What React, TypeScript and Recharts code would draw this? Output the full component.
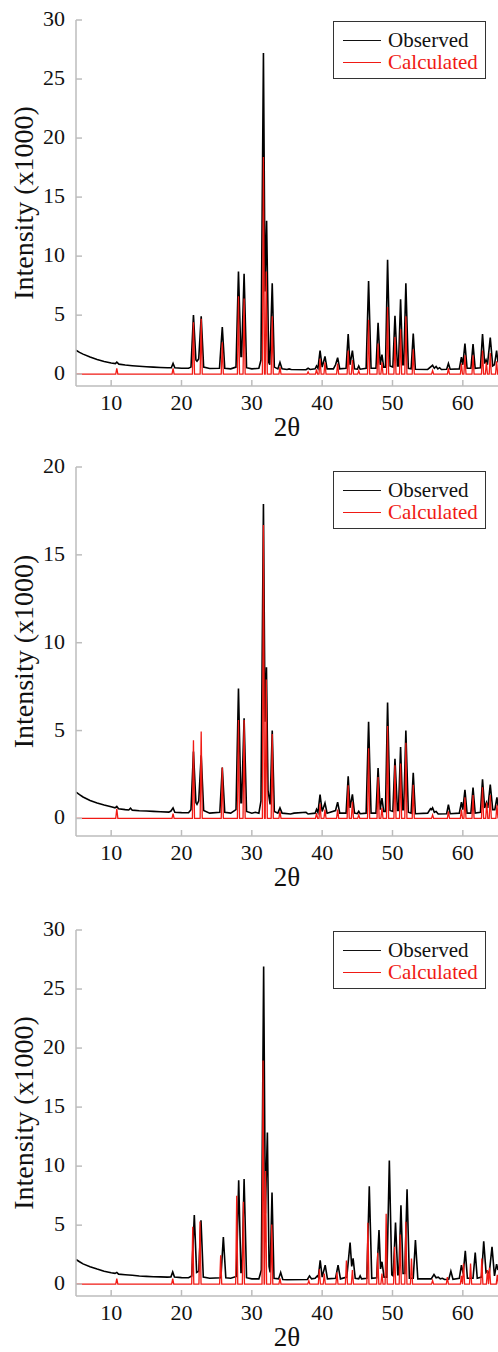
import React from 'react';
import { LineChart, Line, XAxis, YAxis, Legend, Label } from 'recharts';

// ---------- shared ticks ----------
const xTicks = [10, 20, 30, 40, 50, 60];
const yTicks30 = [0, 5, 10, 15, 20, 25, 30];
const yTicks20 = [0, 5, 10, 15, 20];
const seriesNames = ['Observed', 'Calculated'];

// ---------- panel 1 ----------
const observed1: [number, number][] = [
  [5, 2.03], [5.5, 1.85], [6, 1.7], [7, 1.45], [8, 1.25], [9, 1.08], [10, 0.95], [10.6, 0.9], [10.8, 1.02], [11.1, 0.85],
  [12, 0.78], [13, 0.72], [14, 0.67], [15, 0.63], [16, 0.6], [17, 0.57], [18, 0.55], [18.55, 0.55], [18.8, 0.92], [19.05, 0.55],
  [20, 0.5], [21, 0.5], [21.35, 0.6], [21.7, 5.0], [22.05, 1.2], [22.2, 1.1], [22.45, 1.3], [22.8, 4.9], [23.15, 0.6], [24, 0.48],
  [25.4, 0.5], [25.8, 4.0], [26.15, 0.5], [27, 0.45], [27.75, 0.6], [28.1, 8.7], [28.45, 1.5], [28.55, 1.5], [28.9, 8.5], [29.25, 0.55],
  [30, 0.45], [31, 0.5], [31.3, 1.2], [31.65, 27.2], [31.88, 7.0], [32.1, 13.0], [32.4, 1.0], [32.55, 0.8], [32.9, 7.7], [33.2, 0.6],
  [33.7, 0.45], [34.0, 1.0], [34.3, 0.45], [35, 0.4], [35.3, 0.45], [35.6, 0.4], [37.7, 0.38], [38, 0.5], [38.3, 0.4], [39, 0.45],
  [39.2, 0.7], [39.4, 0.5], [39.7, 2.0], [40.0, 0.6], [40.4, 1.5], [40.7, 0.45], [41.6, 0.45], [41.9, 0.8], [42.2, 1.4], [42.5, 0.45],
  [43.4, 0.5], [43.7, 3.4], [43.95, 0.8], [44.3, 2.0], [44.6, 0.45], [45, 0.42], [45.2, 0.7], [45.4, 0.42], [46.25, 0.5], [46.6, 7.9],
  [46.95, 0.5], [47.65, 0.5], [47.95, 4.35], [48.25, 0.8], [48.5, 1.65], [48.75, 0.6], [49.0, 0.6], [49.3, 9.7], [49.65, 0.7], [50.05, 0.6],
  [50.35, 4.95], [50.7, 0.7], [50.85, 0.7], [51.15, 6.35], [51.45, 0.8], [51.6, 0.8], [51.9, 7.7], [52.25, 0.5], [52.65, 0.45], [52.95, 3.45],
  [53.25, 0.42], [55, 0.4], [55.7, 0.75], [55.95, 0.5], [56.2, 0.65], [56.45, 0.45], [56.7, 0.55], [56.95, 0.4], [57.7, 0.42], [57.95, 0.9],
  [58.2, 0.42], [59.5, 0.45], [59.8, 1.45], [60.0, 0.8], [60.3, 2.6], [60.6, 0.5], [61.15, 0.5], [61.45, 2.55], [61.75, 0.5], [62.5, 0.55],
  [62.8, 3.4], [63.1, 0.9], [63.3, 1.2], [63.5, 0.8], [63.9, 3.1], [64.25, 0.7], [64.5, 0.8], [64.8, 2.0], [65, 1.0],
];
// calculated reflections: [2θ, intensity]
const calculated1: [number, number][] = [
  [10.8, 0.5], [18.8, 0.5], [21.7, 4.4], [22.8, 4.7], [25.8, 2.7], [28.1, 6.6], [28.9, 6.4], [31.65, 18.4], [32.05, 8.7], [32.9, 4.9],
  [34.0, 0.6], [38.0, 0.2], [39.2, 0.4], [39.7, 1.3], [40.4, 1.0], [42.2, 0.9], [43.7, 2.0], [44.3, 1.2], [45.2, 0.3], [46.6, 4.6],
  [47.95, 2.6], [48.5, 1.0], [49.3, 5.7], [50.35, 3.15], [51.15, 3.8], [51.9, 4.9], [52.95, 2.1], [55.7, 0.3], [57.95, 0.5], [59.8, 0.9],
  [60.3, 1.6], [61.45, 1.6], [62.8, 2.0], [63.35, 1.0], [63.9, 1.8], [64.8, 1.1],
];

// ---------- panel 2 ----------
const observed2: [number, number][] = [
  [5, 1.5], [5.5, 1.35], [6, 1.22], [7, 1.02], [8, 0.88], [9, 0.76], [10, 0.66], [10.55, 0.6], [10.8, 0.68], [11.05, 0.55],
  [12, 0.5], [12.5, 0.48], [12.75, 0.58], [13.0, 0.47], [14, 0.44], [15, 0.42], [16, 0.4], [17, 0.38], [18.2, 0.36], [18.5, 0.42],
  [18.8, 0.6], [19.05, 0.35], [20, 0.33], [21, 0.32], [21.35, 0.5], [21.7, 3.8], [22.05, 0.9], [22.2, 0.8], [22.45, 1.0], [22.8, 3.6],
  [23.15, 0.45], [24, 0.3], [25.45, 0.35], [25.8, 2.9], [26.15, 0.35], [27, 0.3], [27.75, 0.5], [28.1, 7.4], [28.45, 0.9], [28.55, 0.9],
  [28.9, 5.7], [29.25, 0.4], [30, 0.3], [30.5, 0.35], [31, 0.3], [31.3, 1.0], [31.65, 17.9], [31.88, 5.5], [32.08, 8.6], [32.3, 1.6],
  [32.45, 1.2], [32.6, 0.8], [32.9, 5.0], [33.2, 0.4], [33.7, 0.3], [34.0, 0.6], [34.3, 0.3], [35.5, 0.25], [36, 0.3], [37.7, 0.35],
  [38, 0.25], [39, 0.3], [39.2, 0.52], [39.4, 0.35], [39.7, 1.35], [40.0, 0.4], [40.4, 0.87], [40.7, 0.3], [41.9, 0.45], [42.2, 0.93],
  [42.5, 0.3], [43.4, 0.3], [43.7, 2.4], [43.95, 0.6], [44.3, 1.37], [44.6, 0.3], [45, 0.27], [45.2, 0.4], [45.4, 0.27], [46.25, 0.3],
  [46.6, 5.5], [46.95, 0.3], [47.65, 0.3], [47.95, 2.87], [48.25, 0.5], [48.5, 1.16], [48.75, 0.4], [49.0, 0.4], [49.3, 6.6], [49.65, 0.45],
  [50.05, 0.4], [50.35, 3.4], [50.7, 0.45], [50.85, 0.45], [51.15, 4.06], [51.45, 0.5], [51.6, 0.5], [51.9, 5.0], [52.25, 0.35], [52.65, 0.3],
  [52.95, 2.6], [53.25, 0.27], [55, 0.3], [55.4, 0.55], [55.55, 0.5], [55.7, 0.6], [55.95, 0.35], [56.2, 0.4], [56.5, 0.25], [57.7, 0.27],
  [57.95, 0.78], [58.2, 0.27], [59.5, 0.3], [59.8, 0.93], [60.0, 0.5], [60.3, 1.63], [60.6, 0.3], [61.15, 0.3], [61.45, 1.75], [61.75, 0.3],
  [62.5, 0.35], [62.8, 2.22], [63.1, 0.6], [63.35, 0.9], [63.55, 0.6], [63.9, 1.92], [64.25, 0.5], [64.55, 0.5], [64.85, 1.2], [65, 0.7],
];
const calculated2: [number, number][] = [
  [10.8, 0.55], [18.8, 0.27], [21.7, 4.45], [22.8, 4.95], [25.8, 2.9], [28.1, 5.6], [28.9, 5.6], [31.65, 16.7], [32.05, 7.9], [32.9, 4.8],
  [34.0, 0.4], [39.2, 0.3], [39.7, 0.83], [40.4, 0.5], [42.2, 0.5], [43.7, 1.88], [44.3, 0.95], [45.2, 0.2], [46.6, 4.0], [47.95, 2.35],
  [48.5, 0.6], [49.3, 5.26], [50.35, 3.02], [51.15, 3.12], [51.9, 4.31], [52.95, 1.92], [55.7, 0.2], [57.95, 0.4], [59.8, 0.5], [60.3, 1.21],
  [61.45, 1.33], [62.8, 1.78], [63.4, 0.9], [63.9, 1.33], [64.85, 0.77],
];

// ---------- panel 3 ----------
const observed3: [number, number][] = [
  [5, 2.09], [5.5, 1.9], [6, 1.72], [7, 1.48], [8, 1.28], [9, 1.1], [10, 0.97], [10.55, 0.92], [10.8, 1.0], [11.05, 0.85],
  [12, 0.8], [13, 0.76], [14, 0.7], [15, 0.66], [16, 0.63], [17, 0.62], [18, 0.6], [18.5, 0.62], [18.75, 1.04], [19.0, 0.6],
  [20, 0.56], [21, 0.55], [21.45, 0.7], [21.82, 5.85], [22.15, 1.0], [22.45, 1.1], [22.77, 5.42], [23.1, 0.6], [24, 0.5], [25.6, 0.55],
  [25.95, 4.0], [26.3, 0.55], [27, 0.5], [27.8, 0.65], [28.13, 8.8], [28.45, 1.0], [28.6, 1.0], [28.9, 8.9], [29.25, 0.55], [30, 0.45],
  [31, 0.45], [31.35, 1.2], [31.68, 26.9], [31.92, 6.0], [32.21, 12.85], [32.45, 1.5], [32.6, 1.0], [32.87, 7.77], [33.15, 0.5], [33.8, 0.45],
  [34.1, 0.99], [34.4, 0.4], [35, 0.38], [37.9, 0.4], [38.2, 0.7], [38.5, 0.45], [39.0, 0.5], [39.3, 0.7], [39.45, 0.6], [39.72, 2.03],
  [40.0, 0.6], [40.43, 1.61], [40.75, 0.45], [41.9, 0.5], [42.26, 1.61], [42.6, 0.45], [43.5, 0.6], [43.97, 3.53], [44.2, 1.5], [44.4, 2.18],
  [44.7, 0.5], [45.2, 0.45], [45.4, 0.7], [45.6, 0.45], [46.35, 0.5], [46.7, 8.3], [47.05, 0.5], [47.75, 0.55], [48.08, 4.58], [48.3, 1.3],
  [48.5, 1.9], [48.8, 0.6], [49.2, 0.6], [49.55, 10.48], [49.9, 0.8], [50.1, 0.7], [50.43, 5.22], [50.75, 0.8], [50.9, 0.8], [51.2, 6.69],
  [51.5, 0.9], [51.75, 0.9], [52.07, 8.04], [52.4, 0.5], [52.95, 0.5], [53.26, 3.73], [53.6, 0.45], [55.5, 0.45], [55.9, 0.82], [56.2, 0.55],
  [56.5, 0.6], [56.8, 0.45], [57.1, 0.5], [57.4, 0.4], [58.0, 0.42], [58.3, 1.1], [58.6, 0.42], [59.5, 0.5], [59.8, 1.61], [60.05, 0.9],
  [60.35, 2.82], [60.65, 0.5], [61.45, 0.5], [61.76, 2.68], [62.05, 0.5], [62.65, 0.6], [62.97, 3.64], [63.3, 1.0], [63.45, 1.1], [63.75, 0.9],
  [64.15, 3.16], [64.5, 0.7], [64.8, 1.7], [65, 1.2],
];
const calculated3: [number, number][] = [
  [10.8, 0.48], [18.75, 0.48], [21.6, 4.86], [22.63, 5.3], [25.57, 2.46], [27.85, 7.49], [28.8, 6.98], [31.6, 18.95], [31.95, 9.58], [32.83, 5.06],
  [34.0, 0.5], [38.1, 0.3], [39.6, 1.27], [40.3, 0.9], [42.1, 1.0], [43.45, 2.0], [44.3, 1.2], [46.5, 5.2], [47.9, 2.66], [48.5, 0.9],
  [49.1, 5.96], [50.3, 3.16], [51.1, 4.2], [51.9, 5.28], [52.7, 2.17], [55.7, 0.3], [57.8, 0.6], [59.8, 0.7], [60.1, 1.75], [61.1, 1.75],
  [62.7, 2.17], [63.5, 1.2], [63.8, 1.4], [64.9, 0.8],
];

// ---------- styling ----------
const FONT = "'Liberation Serif', 'Times New Roman', serif";
const AXIS = '#bdbdbd';
const RED = '#f01a14';
const X_MIN = 5;
const X_MAX = 65;
const STICK_HALF = 0.15;

const toRows = (pts: [number, number][]) => pts.map(([x, y]) => ({ x, y }));
// stick profile of calculated reflections on a zero baseline
const stickRows = (refl: [number, number][]) => {
  const rows: { x: number; y: number }[] = [{ x: X_MIN, y: 0 }];
  refl.forEach(([p, h]) => {
    rows.push({ x: p - STICK_HALF, y: 0 }, { x: p, y: h }, { x: p + STICK_HALF, y: 0 });
  });
  rows.push({ x: X_MAX, y: 0 });
  return rows;
};

const XTick = (props: any) => {
  const { x, y, payload } = props;
  return (
    <g>
      <line x1={x} x2={x} y1={y} y2={y - 6} stroke={AXIS} strokeWidth={1.5} />
      <text x={x} y={y + 24} textAnchor="middle" fontSize={22} fontFamily={FONT} fill="#111">
        {payload.value}
      </text>
    </g>
  );
};

const YTick = (props: any) => {
  const { x, y, payload } = props;
  return (
    <g>
      <line x1={x} x2={x + 6} y1={y} y2={y} stroke={AXIS} strokeWidth={1.5} />
      <text x={x - 11} y={y + 6} textAnchor="end" fontSize={22} fontFamily={FONT} fill="#111">
        {payload.value}
      </text>
    </g>
  );
};

const XLabel = (props: any) => {
  const vb = props.viewBox || {};
  return (
    <text x={vb.x + vb.width / 2} y={vb.y + 50} textAnchor="middle" fontSize={27} fontFamily={FONT} fill="#111">
      2θ
    </text>
  );
};

const YLabel = (props: any) => {
  const vb = props.viewBox || {};
  const cy = vb.y + vb.height / 2;
  return (
    <text transform={`translate(33, ${cy}) rotate(-90)`} textAnchor="middle" fontSize={28} fontFamily={FONT} fill="#111">
      Intensity (x1000)
    </text>
  );
};

const LegendBox = () => (
  <div
    style={{
      width: 153,
      height: 58,
      boxSizing: 'border-box',
      border: '1.2px solid #333',
      background: '#fff',
      fontFamily: FONT,
      fontSize: 21,
      paddingTop: 7,
    }}
  >
    {[
      { name: seriesNames[0], color: '#111' },
      { name: seriesNames[1], color: RED },
    ].map((it) => (
      <div key={it.name} style={{ display: 'flex', alignItems: 'center', height: 22, lineHeight: '22px' }}>
        <span style={{ display: 'inline-block', marginLeft: 9, width: 38, height: 0, borderTop: `1.5px solid ${it.color}` }} />
        <span style={{ marginLeft: 7, color: it.color }}>{it.name}</span>
      </div>
    ))}
  </div>
);

type PanelProps = {
  top: number;
  height: number;
  marginTop: number;
  xAxisHeight: number;
  yMax: number;
  yTicks: number[];
  observed: [number, number][];
  calculated: [number, number][];
};

const Panel = ({ top, height, marginTop, xAxisHeight, yMax, yTicks, observed, calculated }: PanelProps) => (
  <div style={{ position: 'absolute', left: 0, top }}>
    <LineChart width={498} height={height} margin={{ top: marginTop, right: 0, bottom: 0, left: 0 }}>
      <XAxis
        type="number"
        dataKey="x"
        domain={[X_MIN, X_MAX]}
        ticks={xTicks}
        allowDataOverflow
        height={xAxisHeight}
        axisLine={{ stroke: AXIS, strokeWidth: 1.5 }}
        tickLine={false}
        tickSize={0}
        tickMargin={0}
        tick={<XTick />}
        interval={0}
      >
        <Label content={<XLabel />} />
      </XAxis>
      <YAxis
        type="number"
        domain={[-1, yMax]}
        ticks={yTicks}
        allowDataOverflow
        width={76}
        axisLine={{ stroke: AXIS, strokeWidth: 1.5 }}
        tickLine={false}
        tickSize={0}
        tickMargin={0}
        tick={<YTick />}
        interval={0}
      >
        <Label content={<YLabel />} />
      </YAxis>
      <Line
        data={toRows(observed)}
        dataKey="y"
        name={seriesNames[0]}
        type="linear"
        stroke="#000"
        strokeWidth={1.6}
        dot={false}
        activeDot={false}
        isAnimationActive={false}
      />
      <Line
        data={stickRows(calculated)}
        dataKey="y"
        name={seriesNames[1]}
        type="linear"
        stroke={RED}
        strokeWidth={1.3}
        dot={false}
        activeDot={false}
        isAnimationActive={false}
      />
      <Legend
        layout="horizontal"
        verticalAlign="middle"
        align="center"
        wrapperStyle={{ top: 21, left: 333, width: 153, height: 58 }}
        content={<LegendBox />}
      />
    </LineChart>
  </div>
);

export default function App() {
  return (
    <div style={{ position: 'absolute', left: 0, top: 0, width: 498, height: 1352, background: '#fff' }}>
      <Panel top={0} height={450} marginTop={20} xAxisHeight={64} yMax={30} yTicks={yTicks30} observed={observed1} calculated={calculated1} />
      <Panel top={450} height={450} marginTop={17} xAxisHeight={64} yMax={20} yTicks={yTicks20} observed={observed2} calculated={calculated2} />
      <Panel top={910} height={442} marginTop={20} xAxisHeight={56} yMax={30} yTicks={yTicks30} observed={observed3} calculated={calculated3} />
    </div>
  );
}
